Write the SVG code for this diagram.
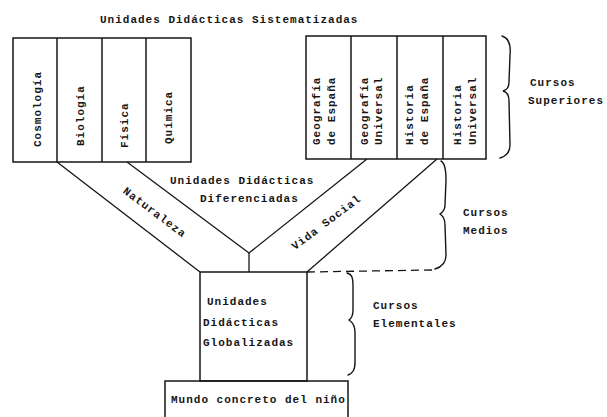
<svg xmlns="http://www.w3.org/2000/svg" width="607" height="417" viewBox="0 0 607 417">
<style>
text{font-family:"Liberation Mono","DejaVu Sans Mono",monospace;font-weight:bold;font-size:11px;letter-spacing:1px;fill:#161616}
.box{fill:none;stroke:#161616;stroke-width:1.5}
.ln{fill:none;stroke:#161616;stroke-width:1.3}
.br{fill:none;stroke:#161616;stroke-width:1.4;stroke-linecap:round}
.dash{fill:none;stroke:#161616;stroke-width:1.3;stroke-dasharray:8 5}
</style>
<rect width="607" height="417" fill="#fff"/>
<text x="100" y="23">Unidades Didácticas Sistematizadas</text>

<g id="sistematizadas-naturaleza">
<rect class="box" x="13" y="38" width="178" height="124"/>
<line class="box" x1="57" y1="38" x2="57" y2="162"/>
<line class="box" x1="102" y1="38" x2="102" y2="162"/>
<line class="box" x1="146" y1="38" x2="146" y2="162"/>
<text transform="translate(41,147) rotate(-90)">Cosmología</text>
<text transform="translate(84,146) rotate(-90)">Biología</text>
<text transform="translate(128,148) rotate(-90)">Física</text>
<text transform="translate(172,144) rotate(-90)">Química</text>
</g>

<g id="sistematizadas-social">
<rect class="box" x="306" y="36" width="180" height="123"/>
<line class="box" x1="351" y1="36" x2="351" y2="159"/>
<line class="box" x1="397" y1="36" x2="397" y2="159"/>
<line class="box" x1="443" y1="36" x2="443" y2="159"/>
<text transform="translate(320,145) rotate(-90)">Geografía</text>
<text transform="translate(335,145) rotate(-90)">de España</text>
<text transform="translate(368,145) rotate(-90)">Geografía</text>
<text transform="translate(382,145) rotate(-90)">Universal</text>
<text transform="translate(413,145) rotate(-90)">Historia</text>
<text transform="translate(428,145) rotate(-90)">de España</text>
<text transform="translate(461,145) rotate(-90)">Historia</text>
<text transform="translate(476,145) rotate(-90)">Universal</text>
</g>

<g id="connectors">
<line class="ln" x1="57" y1="162" x2="200" y2="272"/>
<line class="ln" x1="127" y1="162" x2="249" y2="253"/>
<line class="ln" x1="249" y1="253" x2="367" y2="159"/>
<line class="ln" x1="307" y1="272" x2="437" y2="159"/>
<line class="ln" x1="249" y1="253" x2="249" y2="272"/>
</g>

<g id="diferenciadas">
<text x="170" y="184">Unidades  Didácticas</text>
<text x="200" y="202">Diferenciadas</text>
<text transform="translate(155,212) rotate(37)" text-anchor="middle" y="4">Naturaleza</text>
<text transform="translate(326,222) rotate(-37)" text-anchor="middle" y="4">Vida Social</text>
</g>

<g id="globalizadas">
<rect class="box" x="200" y="272" width="107" height="109"/>
<text x="207" y="305">Unidades</text>
<text x="203" y="326">Didácticas</text>
<text x="203" y="346">Globalizadas</text>
</g>

<g id="mundo">
<rect class="box" x="165" y="381" width="183" height="40"/>
<text x="171" y="403">Mundo concreto del niño</text>
</g>

<g id="cursos-superiores">
<path class="br" d="M502 36 C509 38 511 45 510 55 L509 82 C509 88 507 90 503 91 C507 92 509 95 509 101 L510 145 C510 152 507 156 500 158"/>
<text x="530" y="86">Cursos</text>
<text x="528" y="104">Superiores</text>
</g>

<g id="cursos-medios">
<path class="br" d="M441 161 C445 163 446 170 446 180 L445 205 C445 210 443 212 440 214 C443 216 445 219 445 225 L446 255 C446 263 442 267 435 269"/>
<path class="dash" d="M307 272 L432 270"/>
<text x="463" y="216">Cursos</text>
<text x="463" y="234">Medios</text>
</g>

<g id="cursos-elementales">
<path class="br" d="M347 273 C352 274 353 278 353 285 L353 310 C353 315 352 318 349 320 C352 322 355 325 355 332 L355 362 C355 370 353 373 348 375"/>
<text x="373" y="309">Cursos</text>
<text x="373" y="327">Elementales</text>
</g>
</svg>
